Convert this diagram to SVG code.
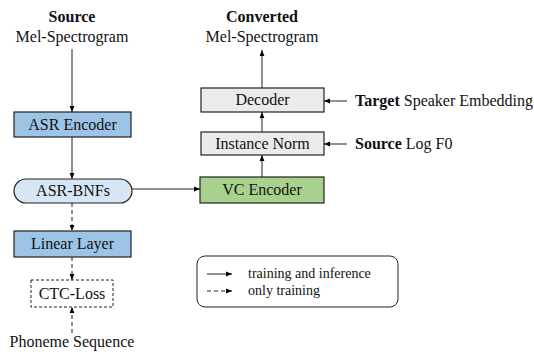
<svg xmlns="http://www.w3.org/2000/svg" width="534" height="352" viewBox="0 0 534 352" font-family="Liberation Serif">
<defs>
<marker id="ah" viewBox="0 0 10 10" refX="10" refY="5" markerWidth="6" markerHeight="6" markerUnits="userSpaceOnUse" orient="auto">
<path d="M0,1 L10,5 L0,9 Z" fill="#000"/>
</marker>
<style>
text{font-family:"Liberation Serif",serif;font-size:16px;fill:#111;}
.c{text-anchor:middle;}
.b{font-weight:bold;}
.sm{font-size:14px;}
.box{stroke:#222;stroke-width:1.2;}
.ln{stroke:#222;stroke-width:1;fill:none;marker-end:url(#ah);}
.d{stroke-dasharray:4,3;}
</style>
</defs>
<rect width="534" height="352" fill="#fff"/>
<g id="src-label"><text class="c b" x="72" y="22">Source</text><text class="c" x="72" y="42">Mel-Spectrogram</text></g>
<g id="asr-encoder"><rect class="box" x="14" y="112" width="117" height="25" fill="#9dc3e6"/><text class="c" x="72.5" y="130">ASR Encoder</text></g>
<g id="asr-bnfs"><rect class="box" x="14" y="179" width="118" height="24" rx="12" fill="#d6e6f5"/><text class="c" x="73" y="196">ASR-BNFs</text></g>
<g id="linear-layer"><rect class="box" x="14" y="231" width="117" height="26" fill="#9dc3e6"/><text class="c" x="72.5" y="249">Linear Layer</text></g>
<g id="ctc-loss"><rect x="31" y="280" width="82" height="27" fill="#fff" stroke="#222" stroke-width="1" stroke-dasharray="3,2"/><text class="c" x="72" y="299">CTC-Loss</text></g>
<g id="phoneme"><text class="c" x="72" y="347">Phoneme Sequence</text></g>
<g id="vc-encoder"><rect class="box" x="200" y="177" width="124" height="26" fill="#a9d18e"/><text class="c" x="262" y="195">VC Encoder</text></g>
<g id="instance-norm"><rect class="box" x="201" y="132" width="123" height="23" fill="#ebebeb"/><text class="c" x="262.5" y="149">Instance Norm</text></g>
<g id="decoder"><rect class="box" x="201" y="88" width="123" height="24" fill="#ebebeb"/><text class="c" x="262.5" y="105">Decoder</text></g>
<g id="conv-label"><text class="c b" x="262" y="22">Converted</text><text class="c" x="262" y="42">Mel-Spectrogram</text></g>
<g id="target-emb"><text x="355" y="106"><tspan class="b">Target</tspan> Speaker Embedding</text></g>
<g id="logf0"><text x="355" y="149"><tspan class="b">Source</tspan> Log F0</text></g>
<g id="legend">
<rect x="197" y="256" width="201" height="51" rx="8" fill="#fff" stroke="#222" stroke-width="1"/>
<line class="ln" x1="207" y1="274" x2="232" y2="274"/>
<line class="ln d" x1="207" y1="291" x2="232" y2="291"/>
<text class="sm" x="248" y="278">training and inference</text>
<text class="sm" x="248" y="295">only training</text>
</g>
<g id="connectors">
<line class="ln" x1="72" y1="49" x2="72" y2="112"/>
<line class="ln" x1="72" y1="137" x2="72" y2="179"/>
<line class="ln d" x1="72" y1="203" x2="72" y2="231"/>
<line class="ln d" x1="72" y1="257" x2="72" y2="280"/>
<line class="ln d" x1="72" y1="333" x2="72" y2="307"/>
<line class="ln" x1="132" y1="189" x2="200" y2="189"/>
<line class="ln" x1="262" y1="177" x2="262" y2="155"/>
<line class="ln" x1="262" y1="132" x2="262" y2="112"/>
<line class="ln" x1="262" y1="88" x2="262" y2="50"/>
<line class="ln" x1="347" y1="101" x2="324" y2="101"/>
<line class="ln" x1="347" y1="144" x2="324" y2="144"/>
</g>
</svg>
